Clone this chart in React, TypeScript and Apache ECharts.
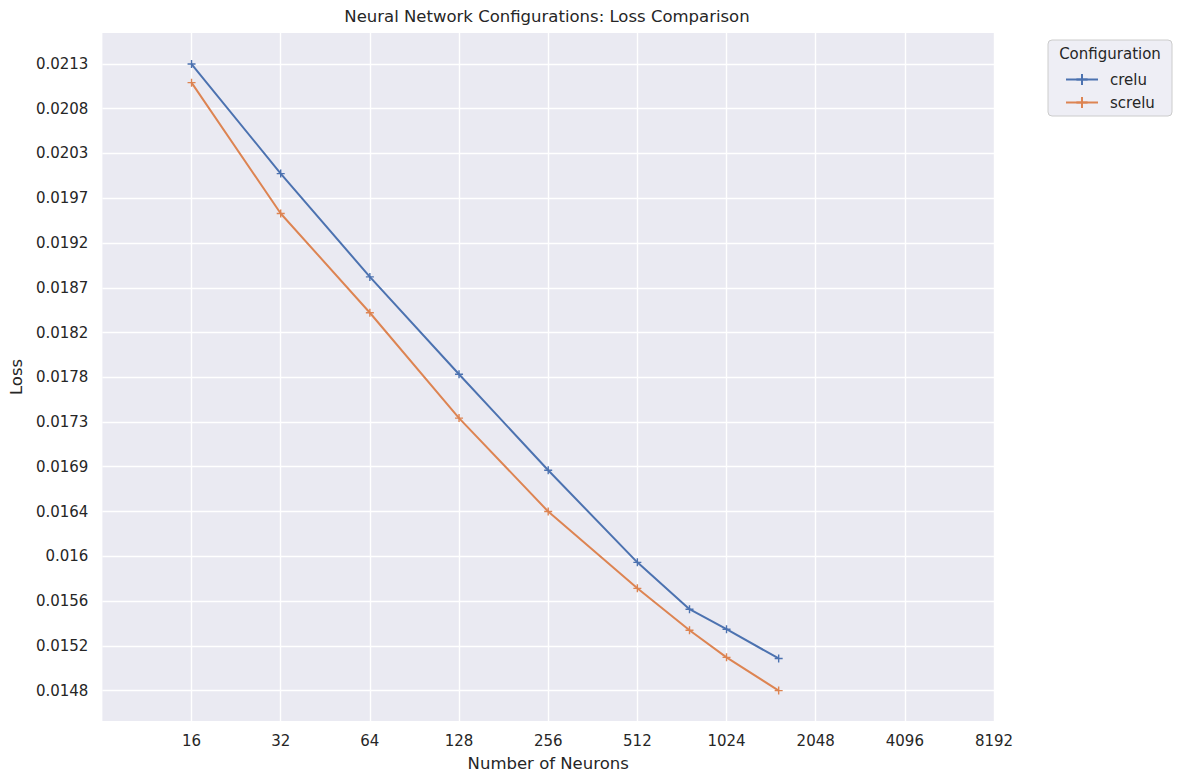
import { useEffect, useRef } from 'react'
import * as echarts from 'echarts'

const neurons = [16, 32, 64, 128, 256, 512, 768, 1024, 1536]
const creluLoss = [0.02134, 0.02002, 0.01885, 0.01781, 0.01684, 0.01596, 0.01553, 0.01535, 0.01509]
const screluLoss = [0.02111, 0.01956, 0.01846, 0.01736, 0.01644, 0.01572, 0.01534, 0.0151, 0.01481]

const xTicks = [16, 32, 64, 128, 256, 512, 1024, 2048, 4096, 8192]
const yTicks = [
  0.014811, 0.015202, 0.015603, 0.016016, 0.01644, 0.016875, 0.017321, 0.017777,
  0.018248, 0.01873, 0.019225, 0.019735, 0.020257, 0.020792, 0.021343,
]

const TEXT = '#262626'
const FONT = 'DejaVu Sans'
// matplotlib-like '+' marker
const PLUS = 'path://M5 0 L5 10 M0 5 L10 5'

export default function App() {
  const chartRef = useRef<HTMLDivElement>(null)

  useEffect(() => {
    if (!chartRef.current) return
    const chart = echarts.init(chartRef.current, undefined, { renderer: 'svg' })

    const makeSeries = (name: string, values: number[], color: string) => ({
      name,
      type: 'line',
      data: neurons.map((n, i) => [n, values[i]]),
      symbol: PLUS,
      symbolSize: 8,
      showAllSymbol: true,
      itemStyle: { color, borderColor: color, borderWidth: 1.4 },
      lineStyle: { color, width: 2 },
      z: 3,
    })

    chart.setOption({
      animation: false,
      textStyle: { fontFamily: FONT },
      title: {
        text: 'Neural Network Configurations: Loss Comparison',
        left: 547,
        top: 8,
        padding: 0,
        textAlign: 'center',
        textStyle: { color: TEXT, fontSize: 16.5, fontWeight: 'normal', fontFamily: FONT },
      },
      grid: {
        left: 101,
        top: 33,
        width: 893,
        height: 688,
        show: true,
        backgroundColor: '#EAEAF2',
        borderWidth: 0,
      },
      legend: {
        orient: 'vertical',
        left: 1065,
        top: 72,
        padding: 0,
        itemWidth: 32,
        itemHeight: 14,
        itemGap: 8,
        textStyle: { color: TEXT, fontSize: 15, fontFamily: FONT, padding: [0, 0, 0, 7] },
        data: ['crelu', 'screlu'],
      },
      graphic: [
        {
          type: 'rect',
          shape: { x: 1048, y: 40, width: 124, height: 76, r: 4 },
          style: { fill: 'rgba(234,234,242,0.8)', stroke: '#cccccc', lineWidth: 1 },
          z: 0,
        },
        {
          type: 'text',
          x: 1110,
          y: 54,
          style: {
            text: 'Configuration',
            fill: TEXT,
            font: `15px "${FONT}"`,
            align: 'center',
            verticalAlign: 'middle',
          },
          z: 1,
        },
      ],
      xAxis: {
        type: 'log',
        logBase: 2,
        min: 8,
        max: 8192,
        name: 'Number of Neurons',
        nameLocation: 'middle',
        nameGap: 34,
        nameTextStyle: { color: TEXT, fontSize: 16.5, fontFamily: FONT },
        axisLine: { show: false },
        axisTick: { show: true, customValues: xTicks, length: 0, lineStyle: { opacity: 0 } },
        axisLabel: {
          customValues: xTicks,
          color: TEXT,
          fontSize: 15,
          fontFamily: FONT,
          margin: 12,
          formatter: (v: number) => String(Math.round(v)),
        },
        splitLine: { show: true, lineStyle: { color: '#ffffff', width: 1.4 } },
      },
      yAxis: {
        type: 'log',
        min: 0.01455,
        max: 0.02173,
        name: 'Loss',
        nameLocation: 'middle',
        nameGap: 75,
        nameTextStyle: { color: TEXT, fontSize: 16.5, fontFamily: FONT },
        axisLine: { show: false },
        axisTick: { show: true, customValues: yTicks, length: 0, lineStyle: { opacity: 0 } },
        axisLabel: {
          customValues: yTicks,
          color: TEXT,
          fontSize: 15,
          fontFamily: FONT,
          margin: 14,
          formatter: (v: number) => String(Number(v.toFixed(4))),
        },
        splitLine: { show: true, lineStyle: { color: '#ffffff', width: 1.4 } },
      },
      series: [
        makeSeries('crelu', creluLoss, '#4C72B0'),
        makeSeries('screlu', screluLoss, '#DD8452'),
      ],
    })

    return () => {
      chart.dispose()
    }
  }, [])

  return (
    <div
      ref={chartRef}
      style={{ position: 'fixed', left: 0, top: 0, width: 1182, height: 784, background: '#ffffff' }}
    />
  )
}
